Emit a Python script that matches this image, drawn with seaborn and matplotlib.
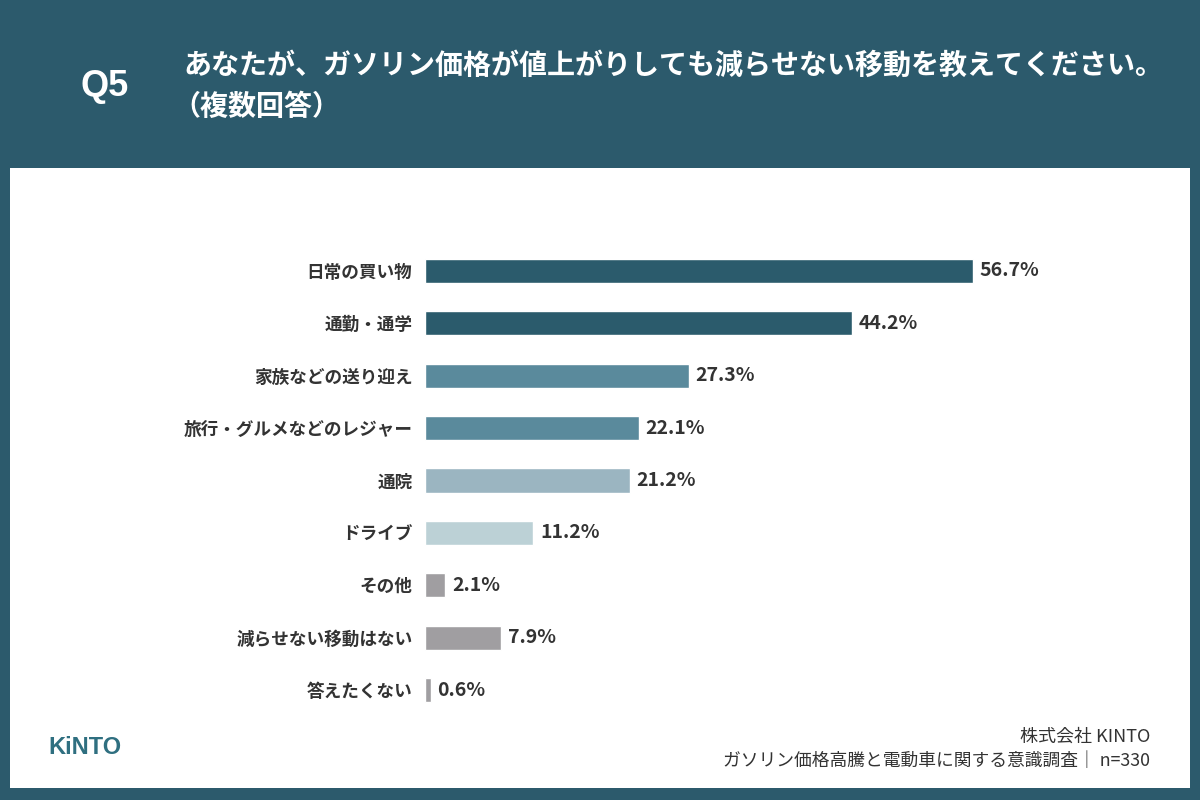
import pandas as pd
import numpy as np
import matplotlib.pyplot as plt
import seaborn as sns
from matplotlib.patches import Rectangle

sns.set_style("white")
plt.rcParams['font.family'] = ['Noto Sans CJK JP', 'DejaVu Sans']

# data
categories = ['日常の買い物', '通勤・通学', '家族などの送り迎え', '旅行・グルメなどのレジャー',
              '通院', 'ドライブ', 'その他', '減らせない移動はない', '答えたくない']
values = [56.7, 44.2, 27.3, 22.1, 21.2, 11.2, 2.1, 7.9, 0.6]
bar_colors = ['#2b5b6c', '#2b5b6c', '#5a8a9c', '#5a8a9c', '#9bb5c1',
              '#bcd1d6', '#a09ea1', '#a09ea1', '#a09ea1']

df = pd.DataFrame({'item': categories, 'pct': values})

BG = '#2c5a6c'
fig = plt.figure(figsize=(12, 8), dpi=100, facecolor=BG)

# white panel (behind the chart)
fig.patches.append(Rectangle((10 / 1200, 12 / 800), 1180 / 1200, 620 / 800,
                             transform=fig.transFigure, facecolor='white',
                             edgecolor='none', zorder=-10))

# header
fig.text(105 / 1200, 1 - 87 / 800, 'Q5', color='white', fontsize=26, fontweight='bold',
         ha='center', va='center', family=['Liberation Sans', 'DejaVu Sans'])
fig.text(183 / 1200, 1 - 66 / 800, 'あなたが、ガソリン価格が値上がりしても減らせない移動を教えてください。',
         color='white', fontsize=20.2, fontweight='bold', ha='left', va='center')
fig.text(172 / 1200, 1 - 107 / 800, '（複数回答）', color='white', fontsize=20.2,
         fontweight='bold', ha='left', va='center')

# chart
ax = fig.add_axes([425 / 1200, 83.8 / 800, 600 / 1200, 471.4 / 800])
ax.set_facecolor('none')
sns.barplot(data=df, x='pct', y='item', hue='item', palette=bar_colors,
            legend=False, width=0.46, ax=ax, saturation=1)
ax.set_xlim(0, 600 / 9.665)
ax.set_ylim(8.5, -0.5)
ax.set_xlabel('')
ax.set_ylabel('')
ax.set_xticks([])
ax.tick_params(axis='y', length=0, pad=9)
for lab in ax.get_yticklabels():
    lab.set_fontsize(12.7)
    lab.set_fontweight('bold')
    lab.set_color('#333333')
for s in ax.spines.values():
    s.set_visible(False)

for i, v in enumerate(values):
    ax.text(v + 0.7, i, f'{v}%', va='center', ha='left', fontsize=14,
            fontweight='bold', color='#333333')

# footer
fig.text(48 / 1200, 1 - 748 / 800, 'KiNTO', color='#2f6f80', fontsize=17,
         fontweight='bold', ha='left', va='center', family=['Liberation Sans', 'DejaVu Sans'])
fig.text(1150 / 1200, 1 - 737 / 800, '株式会社 KINTO', color='#333333', fontsize=13,
         ha='right', va='center')
fig.text(1150 / 1200, 1 - 761 / 800, 'ガソリン価格高騰と電動車に関する意識調査｜ n=330',
         color='#333333', fontsize=12.8, ha='right', va='center')

fig.savefig('out.png', dpi=100, facecolor=BG)
